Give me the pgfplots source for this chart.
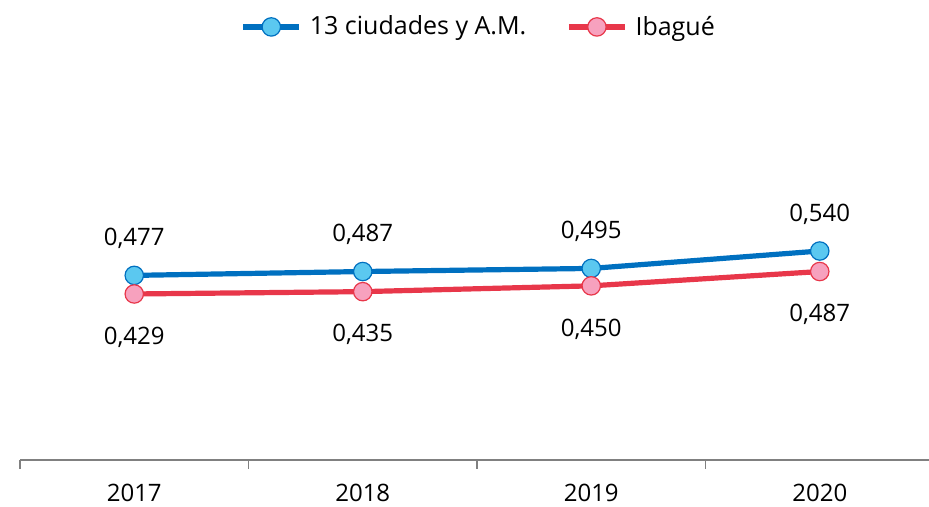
\documentclass[border=0pt]{standalone}
\usepackage{pgfplots}
\pgfplotsset{compat=1.18}
\usepackage{fontspec}
\setmainfont{Open Sans}
\definecolor{bline}{HTML}{0070C0}
\definecolor{bfill}{HTML}{5BC8F0}
\definecolor{rline}{HTML}{E8374A}
\definecolor{rfill}{HTML}{F7A1BE}
\definecolor{axgray}{HTML}{808080}
\begin{document}
\begin{tikzpicture}
\begin{axis}[
  at={(67.125pt,0pt)}, anchor=origin,
  scale only axis, width=457pt, height=193.5pt,
  xmin=-0.5, xmax=3.5, ymin=0, ymax=1,
  axis x line*=bottom, axis y line=none,
  x axis line style={axgray, line width=0.75pt, -},
  xtick={0,1,2,3}, xticklabels={2017,2018,2019,2020},
  major tick length=0pt,
  minor xtick={-0.5,0.5,1.5,2.5,3.5},
  minor tick length=4.5pt,
  tick align=outside,
  minor tick style={axgray, line width=0.75pt},
  xticklabel style={font=\fontsize{12}{14}\selectfont, anchor=center, yshift=-16.5pt},
  /pgf/number format/assume math mode=true,
  /pgf/number format/.cd, use comma, fixed, fixed zerofill, precision=3, /pgfplots/.cd,
  nodes near coords,
  every node near coord/.append style={font=\fontsize{12}{14}\selectfont, text=black, anchor=center},
  legend columns=2,
  legend style={at={(0.503,1.119)}, anchor=center, draw=none, fill=none,
    font=\fontsize{12.5}{14}\selectfont, column sep=2pt,
    /tikz/every even column/.append style={column sep=18pt}},
  legend image code/.code={\draw[mark repeat=2,mark phase=2] plot coordinates {(0pt,0pt) (14pt,0pt) (28pt,0pt)};},
  clip=false,
]
\addplot[bline, line width=2.6pt, mark=*, mark size=4.6pt,
  mark options={fill=bfill, draw=bline, line width=0.6pt},
  nodes near coords style={yshift=18.5pt}]
  coordinates {(0,0.477) (1,0.487) (2,0.495) (3,0.540)};
\addlegendentry{13 ciudades y A.M.}
\addplot[rline, line width=2.6pt, mark=*, mark size=4.6pt,
  mark options={fill=rfill, draw=rline, line width=0.6pt},
  nodes near coords style={yshift=-21.5pt}]
  coordinates {(0,0.429) (1,0.435) (2,0.450) (3,0.487)};
\addlegendentry{Ibagué}
\end{axis}
\pgfresetboundingbox
\path[use as bounding box] (0pt,-23.5pt) rectangle (464.5pt,230pt);
\end{tikzpicture}
\end{document}
